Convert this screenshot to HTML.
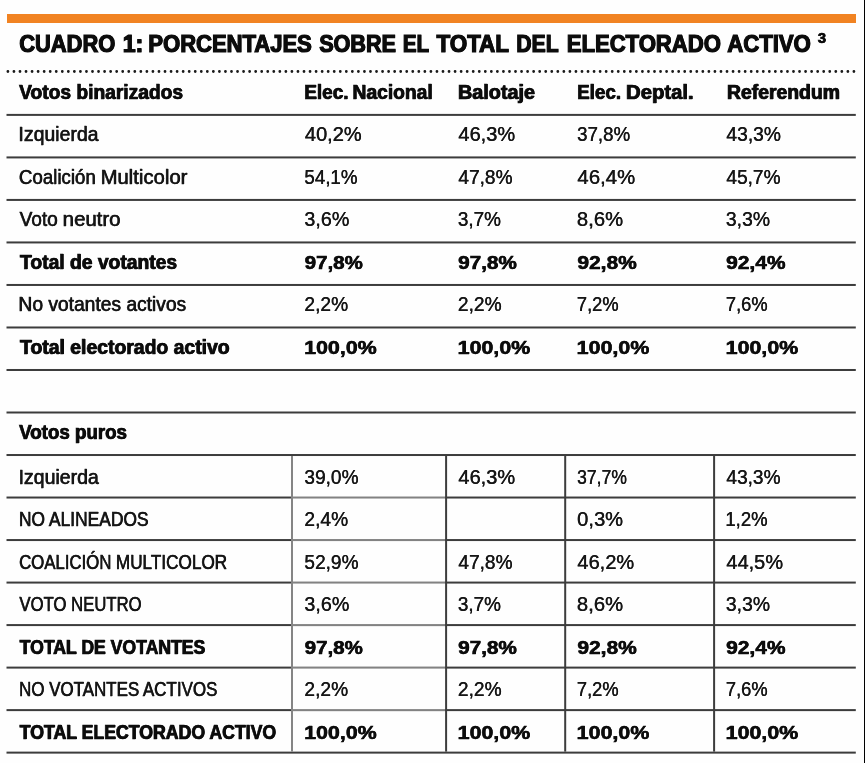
<!DOCTYPE html>
<html lang="es">
<head>
<meta charset="utf-8">
<title>Cuadro 1</title>
<style>
html,body{margin:0;padding:0;}
body{width:865px;height:763px;overflow:hidden;background:#fefefe;position:relative;font-family:"Liberation Sans",sans-serif;color:#111;}
#c{position:absolute;left:0;top:0;width:865px;height:763px;overflow:hidden;will-change:transform;filter:blur(0.4px);}
.bar{position:absolute;left:6.6px;top:14.1px;width:849.1px;height:8.6px;background:#f18322;}
.edge{position:absolute;left:863.85px;top:0;width:1.15px;height:763px;background:#000;}
svg{position:absolute;left:0;top:0;}
.t{position:absolute;white-space:nowrap;transform-origin:0 0;line-height:1;color:#161616;-webkit-text-stroke:0.42px #161616;text-shadow:0.5px 0 0 #161616;}
.n{-webkit-text-stroke:0.2px #161616;text-shadow:0.25px 0 0 #161616;}
.b{font-weight:bold;color:#0c0c0c;-webkit-text-stroke:0.6px #0c0c0c;text-shadow:0.7px 0 0 #0c0c0c;}
.b.n{-webkit-text-stroke:0.45px #0c0c0c;text-shadow:0.3px 0 0 #0c0c0c;}
.ti{-webkit-text-stroke:1.2px #0c0c0c;text-shadow:0.5px 0 0 #0c0c0c;}

</style>
</head>
<body>
<div id="c">
<div class="bar"></div>
<div class="edge"></div>
<svg width="865" height="763" viewBox="0 0 865 763"><line x1="7.9" y1="71.5" x2="854.5" y2="71.5" stroke="#1a1a1a" stroke-width="2.8" stroke-linecap="round" stroke-dasharray="0 6.043"/><rect x="6.5" y="113.90" width="849.3" height="2.0" fill="#3c3c3c"/><rect x="6.5" y="156.42" width="849.3" height="2.0" fill="#3c3c3c"/><rect x="6.5" y="198.93" width="849.3" height="2.0" fill="#3c3c3c"/><rect x="6.5" y="241.44" width="849.3" height="2.0" fill="#3c3c3c"/><rect x="6.5" y="283.96" width="849.3" height="2.0" fill="#3c3c3c"/><rect x="6.5" y="326.48" width="849.3" height="2.0" fill="#3c3c3c"/><rect x="6.5" y="368.99" width="849.3" height="2.0" fill="#3c3c3c"/><rect x="6.5" y="411.50" width="849.3" height="2.0" fill="#3c3c3c"/><rect x="6.5" y="454.02" width="849.3" height="2.0" fill="#3c3c3c"/><rect x="6.5" y="496.53" width="849.3" height="2.0" fill="#3c3c3c"/><rect x="6.5" y="539.05" width="849.3" height="2.0" fill="#3c3c3c"/><rect x="6.5" y="581.57" width="849.3" height="2.0" fill="#3c3c3c"/><rect x="6.5" y="624.08" width="849.3" height="2.0" fill="#3c3c3c"/><rect x="6.5" y="666.60" width="849.3" height="2.0" fill="#3c3c3c"/><rect x="6.5" y="709.11" width="849.3" height="2.0" fill="#3c3c3c"/><rect x="6.5" y="751.62" width="849.3" height="2.0" fill="#3c3c3c"/><rect x="292.0" y="496.03" width="153.1" height="3.0" fill="#fefefe"/><rect x="292.0" y="496.53" width="153.1" height="2.0" fill="#828282"/><rect x="292.0" y="538.55" width="153.1" height="3.0" fill="#fefefe"/><rect x="292.0" y="539.05" width="153.1" height="2.0" fill="#828282"/><rect x="292.0" y="581.07" width="153.1" height="3.0" fill="#fefefe"/><rect x="292.0" y="581.57" width="153.1" height="2.0" fill="#828282"/><rect x="292.0" y="623.58" width="153.1" height="3.0" fill="#fefefe"/><rect x="292.0" y="624.08" width="153.1" height="2.0" fill="#828282"/><rect x="292.0" y="666.10" width="153.1" height="3.0" fill="#fefefe"/><rect x="292.0" y="666.60" width="153.1" height="2.0" fill="#828282"/><rect x="292.0" y="708.61" width="153.1" height="3.0" fill="#fefefe"/><rect x="292.0" y="709.11" width="153.1" height="2.0" fill="#828282"/><rect x="291.00" y="456.02" width="2.0" height="295.61" fill="#858585"/><rect x="445.10" y="456.02" width="2.0" height="295.61" fill="#3c3c3c"/><rect x="564.20" y="456.02" width="2.0" height="295.61" fill="#3c3c3c"/><rect x="713.10" y="456.02" width="2.0" height="295.61" fill="#3c3c3c"/></svg>
<div class="t b ti" style="left:19px;top:32px;font-size:24.00px;transform:translateX(0.25px) scaleX(0.9106)">CUADRO</div>
<div class="t b ti" style="left:122px;top:32px;font-size:24.00px;transform:translateX(0.80px) scaleX(0.9567)">1:</div>
<div class="t b ti" style="left:148px;top:32px;font-size:24.00px;transform:translateX(0.35px) scaleX(0.9166)">PORCENTAJES</div>
<div class="t b ti" style="left:319px;top:32px;font-size:24.00px;transform:translateX(0.25px) scaleX(0.8973)">SOBRE</div>
<div class="t b ti" style="left:402px;top:32px;font-size:24.00px;transform:translateX(0.80px) scaleX(0.8577)">EL</div>
<div class="t b ti" style="left:436px;top:32px;font-size:24.00px;transform:translateX(0.55px) scaleX(0.9300)">TOTAL</div>
<div class="t b ti" style="left:516px;top:32px;font-size:24.00px;transform:translateX(0.35px) scaleX(0.8797)">DEL</div>
<div class="t b ti" style="left:566px;top:32px;font-size:24.00px;transform:translateX(0.75px) scaleX(0.9193)">ELECTORADO</div>
<div class="t b ti" style="left:727px;top:32px;font-size:24.00px;transform:translateX(0.20px) scaleX(0.9218)">ACTIVO</div>
<div class="t b" style="left:817px;top:31px;font-size:14.50px;transform:translateX(0.65px) scaleX(1.0096)">3</div>
<div class="t b" style="left:18px;top:82px;font-size:20.90px;transform:translateX(0.95px) scaleX(0.9188)">Votos binarizados</div>
<div class="t b" style="left:304px;top:82px;font-size:20.90px;transform:translateX(0.00px) scaleX(0.9100)">Elec.</div>
<div class="t b" style="left:352px;top:82px;font-size:20.90px;transform:translateX(0.35px) scaleX(0.9205)">Nacional</div>
<div class="t b" style="left:457px;top:82px;font-size:20.90px;transform:translateX(0.80px) scaleX(0.9479)">Balotaje</div>
<div class="t b" style="left:576px;top:82px;font-size:20.90px;transform:translateX(0.90px) scaleX(0.9026)">Elec.</div>
<div class="t b" style="left:625px;top:82px;font-size:20.90px;transform:translateX(0.85px) scaleX(0.9699)">Deptal.</div>
<div class="t b" style="left:726px;top:82px;font-size:20.90px;transform:translateX(0.80px) scaleX(0.9263)">Referendum</div>
<div class="t" style="left:18px;top:124px;font-size:20.90px;transform:translateX(0.35px) scaleX(0.9302)">Izquierda</div>
<div class="t n" style="left:304px;top:125px;font-size:19.30px;transform:translateX(0.80px) scaleX(1.0381)">40,2%</div>
<div class="t n" style="left:458px;top:125px;font-size:19.30px;transform:translateX(0.30px) scaleX(1.0381)">46,3%</div>
<div class="t n" style="left:577px;top:125px;font-size:19.30px;transform:translateX(0.10px) scaleX(0.9677)">37,8%</div>
<div class="t n" style="left:726px;top:125px;font-size:19.30px;transform:translateX(0.30px) scaleX(0.9972)">43,3%</div>
<div class="t" style="left:18px;top:167px;font-size:20.90px;transform:translateX(0.80px) scaleX(0.8938)">Coalición</div>
<div class="t" style="left:100px;top:167px;font-size:20.90px;transform:translateX(0.45px) scaleX(0.9704)">Multicolor</div>
<div class="t n" style="left:304px;top:168px;font-size:19.30px;transform:translateX(0.30px) scaleX(0.9728)">54,1%</div>
<div class="t n" style="left:458px;top:168px;font-size:19.30px;transform:translateX(0.30px) scaleX(0.9896)">47,8%</div>
<div class="t n" style="left:577px;top:168px;font-size:19.30px;transform:translateX(0.35px) scaleX(1.0548)">46,4%</div>
<div class="t n" style="left:726px;top:168px;font-size:19.30px;transform:translateX(0.30px) scaleX(0.9896)">45,7%</div>
<div class="t" style="left:19px;top:209px;font-size:20.90px;transform:translateX(0.50px) scaleX(0.9108)">Voto</div>
<div class="t" style="left:62px;top:209px;font-size:20.90px;transform:translateX(0.60px) scaleX(0.9734)">neutro</div>
<div class="t n" style="left:304px;top:210px;font-size:19.30px;transform:translateX(0.30px) scaleX(1.0220)">3,6%</div>
<div class="t n" style="left:457px;top:210px;font-size:19.30px;transform:translateX(0.80px) scaleX(0.9821)">3,7%</div>
<div class="t n" style="left:576px;top:210px;font-size:19.30px;transform:translateX(0.85px) scaleX(1.0504)">8,6%</div>
<div class="t n" style="left:725px;top:210px;font-size:19.30px;transform:translateX(0.80px) scaleX(1.0032)">3,3%</div>
<div class="t b" style="left:19px;top:252px;font-size:20.90px;transform:translateX(0.85px) scaleX(0.9224)">Total de votantes</div>
<div class="t b n" style="left:304px;top:254px;font-size:18.90px;transform:translateX(0.55px) scaleX(1.0872)">97,8%</div>
<div class="t b n" style="left:458px;top:254px;font-size:18.90px;transform:translateX(0.05px) scaleX(1.0967)">97,8%</div>
<div class="t b n" style="left:577px;top:254px;font-size:18.90px;transform:translateX(0.35px) scaleX(1.1075)">92,8%</div>
<div class="t b n" style="left:726px;top:254px;font-size:18.90px;transform:translateX(0.05px) scaleX(1.1084)">92,4%</div>
<div class="t" style="left:18px;top:294px;font-size:20.90px;transform:translateX(0.35px) scaleX(0.9197)">No votantes activos</div>
<div class="t n" style="left:304px;top:295px;font-size:19.30px;transform:translateX(0.30px) scaleX(0.9958)">2,2%</div>
<div class="t n" style="left:457px;top:295px;font-size:19.30px;transform:translateX(0.80px) scaleX(0.9958)">2,2%</div>
<div class="t n" style="left:576px;top:295px;font-size:19.30px;transform:translateX(0.85px) scaleX(0.9492)">7,2%</div>
<div class="t n" style="left:725px;top:295px;font-size:19.30px;transform:translateX(0.80px) scaleX(0.9498)">7,6%</div>
<div class="t b" style="left:19px;top:337px;font-size:20.90px;transform:translateX(0.85px) scaleX(0.9274)">Total electorado activo</div>
<div class="t b n" style="left:304px;top:339px;font-size:18.90px;transform:translateX(0.05px) scaleX(1.1332)">100,0%</div>
<div class="t b n" style="left:457px;top:339px;font-size:18.90px;transform:translateX(0.55px) scaleX(1.1332)">100,0%</div>
<div class="t b n" style="left:576px;top:339px;font-size:18.90px;transform:translateX(0.60px) scaleX(1.1332)">100,0%</div>
<div class="t b n" style="left:725px;top:339px;font-size:18.90px;transform:translateX(0.55px) scaleX(1.1332)">100,0%</div>
<div class="t b" style="left:18px;top:422px;font-size:20.90px;transform:translateX(0.95px) scaleX(0.8961)">Votos puros</div>
<div class="t" style="left:18px;top:467px;font-size:20.90px;transform:translateX(0.40px) scaleX(0.9334)">Izquierda</div>
<div class="t n" style="left:304px;top:468px;font-size:19.30px;transform:translateX(0.30px) scaleX(0.9896)">39,0%</div>
<div class="t n" style="left:458px;top:468px;font-size:19.30px;transform:translateX(0.30px) scaleX(1.0381)">46,3%</div>
<div class="t n" style="left:577px;top:468px;font-size:19.30px;transform:translateX(0.10px) scaleX(0.9080)">37,7%</div>
<div class="t n" style="left:726px;top:468px;font-size:19.30px;transform:translateX(0.30px) scaleX(0.9896)">43,3%</div>
<div class="t" style="left:18px;top:510px;font-size:19.90px;transform:translateX(0.80px) scaleX(0.8752)">NO ALINEADOS</div>
<div class="t n" style="left:304px;top:510px;font-size:19.30px;transform:translateX(0.30px) scaleX(0.9958)">2,4%</div>
<div class="t n" style="left:577px;top:510px;font-size:19.30px;transform:translateX(0.10px) scaleX(1.0450)">0,3%</div>
<div class="t n" style="left:725px;top:510px;font-size:19.30px;transform:translateX(0.30px) scaleX(0.9616)">1,2%</div>
<div class="t" style="left:18px;top:553px;font-size:19.90px;transform:translateX(1.00px) scaleX(0.8433)">COALICIÓN</div>
<div class="t" style="left:115px;top:553px;font-size:19.90px;transform:translateX(0.65px) scaleX(0.8639)">MULTICOLOR</div>
<div class="t n" style="left:304px;top:553px;font-size:19.30px;transform:translateX(0.30px) scaleX(0.9896)">52,9%</div>
<div class="t n" style="left:458px;top:553px;font-size:19.30px;transform:translateX(0.30px) scaleX(0.9896)">47,8%</div>
<div class="t n" style="left:577px;top:553px;font-size:19.30px;transform:translateX(0.35px) scaleX(1.0381)">46,2%</div>
<div class="t n" style="left:726px;top:553px;font-size:19.30px;transform:translateX(0.30px) scaleX(1.0348)">44,5%</div>
<div class="t" style="left:19px;top:595px;font-size:19.90px;transform:translateX(0.30px) scaleX(0.8394)">VOTO NEUTRO</div>
<div class="t n" style="left:304px;top:595px;font-size:19.30px;transform:translateX(0.30px) scaleX(1.0220)">3,6%</div>
<div class="t n" style="left:457px;top:595px;font-size:19.30px;transform:translateX(0.80px) scaleX(0.9821)">3,7%</div>
<div class="t n" style="left:576px;top:595px;font-size:19.30px;transform:translateX(0.85px) scaleX(1.0504)">8,6%</div>
<div class="t n" style="left:725px;top:595px;font-size:19.30px;transform:translateX(0.80px) scaleX(1.0032)">3,3%</div>
<div class="t b" style="left:19px;top:638px;font-size:19.90px;transform:translateX(0.55px) scaleX(0.8850)">TOTAL DE VOTANTES</div>
<div class="t b n" style="left:304px;top:639px;font-size:18.90px;transform:translateX(0.55px) scaleX(1.0872)">97,8%</div>
<div class="t b n" style="left:458px;top:639px;font-size:18.90px;transform:translateX(0.05px) scaleX(1.0967)">97,8%</div>
<div class="t b n" style="left:577px;top:639px;font-size:18.90px;transform:translateX(0.35px) scaleX(1.1075)">92,8%</div>
<div class="t b n" style="left:726px;top:639px;font-size:18.90px;transform:translateX(0.05px) scaleX(1.1084)">92,4%</div>
<div class="t" style="left:18px;top:680px;font-size:19.90px;transform:translateX(0.90px) scaleX(0.8516)">NO VOTANTES ACTIVOS</div>
<div class="t n" style="left:304px;top:680px;font-size:19.30px;transform:translateX(0.30px) scaleX(0.9958)">2,2%</div>
<div class="t n" style="left:457px;top:680px;font-size:19.30px;transform:translateX(0.80px) scaleX(0.9958)">2,2%</div>
<div class="t n" style="left:576px;top:680px;font-size:19.30px;transform:translateX(0.85px) scaleX(0.9492)">7,2%</div>
<div class="t n" style="left:725px;top:680px;font-size:19.30px;transform:translateX(0.80px) scaleX(0.9498)">7,6%</div>
<div class="t b" style="left:19px;top:723px;font-size:19.90px;transform:translateX(0.55px) scaleX(0.8890)">TOTAL ELECTORADO ACTIVO</div>
<div class="t b n" style="left:304px;top:724px;font-size:18.90px;transform:translateX(0.05px) scaleX(1.1332)">100,0%</div>
<div class="t b n" style="left:457px;top:724px;font-size:18.90px;transform:translateX(0.55px) scaleX(1.1332)">100,0%</div>
<div class="t b n" style="left:576px;top:724px;font-size:18.90px;transform:translateX(0.60px) scaleX(1.1332)">100,0%</div>
<div class="t b n" style="left:725px;top:724px;font-size:18.90px;transform:translateX(0.55px) scaleX(1.1332)">100,0%</div>
</div>
</body>
</html>
